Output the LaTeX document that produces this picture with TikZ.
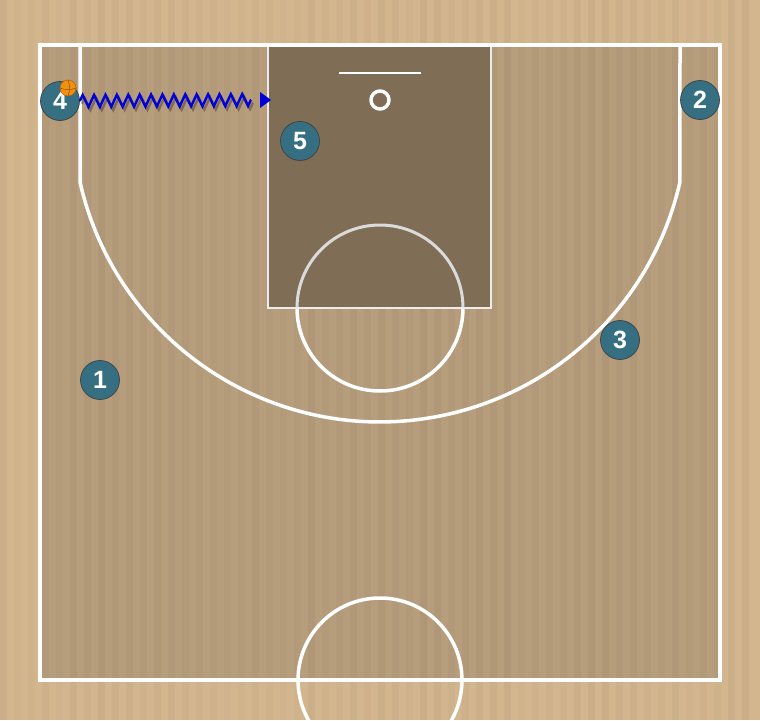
\documentclass[tikz,border=0pt]{standalone}
\usepackage{fontspec}
\setmainfont{Liberation Sans}
\usetikzlibrary{arrows.meta,decorations.pathmorphing}
\definecolor{woodout}{HTML}{D3B68E}
\definecolor{woodin}{HTML}{B69D7C}
\definecolor{paint}{HTML}{7F6D56}
\definecolor{player}{HTML}{356F81}
\definecolor{ballc}{HTML}{F0900E}
\tikzset{>=Stealth,
  court/.style={draw=white,line width=3.5pt},
  keyline/.style={draw=white!85!gray,line width=2.5pt},
  player/.style={circle,draw=black!75,line width=0.7pt,fill=player,minimum size=39pt,inner sep=0pt,
    text=white,font=\fontsize{25}{25}\selectfont\bfseries},
  dribble/.style={draw=blue!85!black,line width=2.4pt,decorate,
    decoration={zigzag,segment length=11.4pt,amplitude=6pt}}}

\begin{document}
\begin{tikzpicture}[x=1pt,y=-1pt]
\useasboundingbox (0,0) rectangle (760,720);
\clip (0,0) rectangle (760,720);
% floor
\fill[woodout] (0,0) rectangle (760,720);
\fill[woodin] (40,45) rectangle (720,680);
\pgfmathsetseed{7}
\foreach \x in {0,14,...,750}{
  \pgfmathsetmacro{\op}{0.01+0.03*rnd}
  \fill[black,opacity=\op] (\x,0) rectangle ++(7,720);
}
% paint
\fill[paint] (268,45) rectangle (491,308);
\draw[white!72!gray,line width=3pt] (297,308) arc[start angle=180,end angle=360,radius=83];
\draw[court] (297,308) arc[start angle=180,end angle=0,radius=83];
\draw[keyline] (268,45) rectangle (491,308);
% court lines
\draw[court] (40,45) rectangle (720,680);
\draw[court] (80,45) -- (80,182) arc[start angle=167.3,end angle=12.7,radius=307.5] -- (680,45);
\draw[white,line width=2pt] (339,73) -- (421,73);
\draw[white,line width=3.5pt] (380,100) circle[radius=9];
\draw[court] (380,680) circle[radius=82];
% players
\node[player] (p1) at (100,380) {1};
\node[player] (p2) at (700,100) {2};
\node[player] (p3) at (620,340) {3};
\node[player] (p4) at (60,101) {4};
\node[player] (p5) at (300,141) {5};
\node[circle,fill=ballc,draw=orange!70!black,line width=0.4pt,minimum size=16pt,inner sep=0pt] (ball) at (68,88) {};
\draw[orange!60!black,line width=0.5pt] (ball.north) to[bend left=20] (ball.south)
  (ball.west) to[bend right=20] (ball.east);
% dribble
\coordinate (dribend) at (251,100);
\coordinate (tip) at (271,100);
\draw[dribble,draw=black,opacity=0.3,transform canvas={shift={(2pt,-3pt)}}] (p4.east) -- (dribend);
\draw[dribble] (p4.east) -- (dribend);
\fill[blue!85!black] (tip) -- ++(-11,-8) -- ++(0,16) -- cycle;
\end{tikzpicture}
\end{document}
